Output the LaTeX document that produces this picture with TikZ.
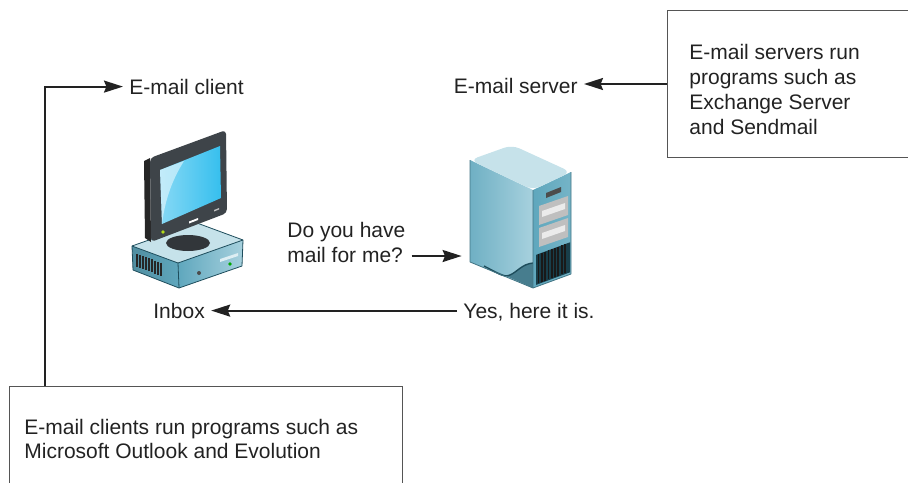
\documentclass[tikz,border=0pt]{standalone}
\usepackage{fontspec}
\setmainfont{Liberation Sans}
\usetikzlibrary{arrows.meta}
\definecolor{inkgray}{HTML}{222222}
\definecolor{boxgray}{HTML}{555555}
\definecolor{tealdark}{HTML}{1E4D5C}
\definecolor{tealmid}{HTML}{5FA7BD}
\definecolor{teallight}{HTML}{A7D1DE}
\definecolor{tealtop}{HTML}{C6E2EA}
\definecolor{screenblue}{HTML}{36BFEE}
\definecolor{bezel}{HTML}{3E4449}
\tikzstyle{Label} = [inner sep=3pt, text=inkgray, font=\fontsize{10.5}{12.5}\selectfont]
\tikzstyle{Note} = [draw=boxgray, line width=0.5pt, rectangle, anchor=north west]
\tikzstyle{NoteText} = [inner sep=0pt, align=left, anchor=north west, text=inkgray]
\tikzstyle{Arrow} = [draw=inkgray, line width=1pt, line join=miter, -{Stealth[length=9.5pt,width=6pt,inset=1.2pt]}]
\tikzstyle{Edge} = [draw=tealdark, line width=0.4pt, line join=round]

\begin{document}
\begin{tikzpicture}[x=0.5pt,y=-0.5pt]
  \clip (0,0) rectangle (908,482);

  % desktop computer
  \fill[tealtop] (132,246) -- (197,223) -- (243,240) -- (178,263) -- cycle;
  \shade[left color=tealmid!85!black, right color=tealmid] (132,246) -- (178,263) -- (179,288) -- (133,270) -- cycle;
  \shade[left color=tealmid, right color=teallight] (178,263) -- (243,240) -- (242,266) -- (179,288) -- cycle;
  \draw[Edge] (132,246) -- (197,223) -- (243,240) -- (242,266) -- (179,288) -- (133,270) -- cycle;
  \draw[Edge] (132,246) -- (178,263) -- (243,240) (178,263) -- (179,288);
  \foreach \x in {137,140,...,161}
    \draw[black!85, line width=0.9pt] (\x,{246+(\x-132)*0.37+6}) -- ++(0,13);
  \fill[tealtop!60!white] (220,259) -- (238,253) -- (238,256) -- (220,262) -- cycle;
  \fill[green!65!black] (230,264) circle (1.8);
  \fill[black!70] (199,273) circle (2);
  \fill[bezel!80!black] (188,243) ellipse (22 and 8);
  \fill[black!85] (144,161) -- (150,158) -- (151,242) -- (145,238) -- cycle;
  \fill[bezel, rounded corners=2pt] (150,158) -- (226,130) -- (227,213) -- (151,242) -- cycle;
  \shade[left color=screenblue!60!white, right color=screenblue] (160,170) -- (220,146) -- (221,198) -- (162,224) -- cycle;
  \fill[white, opacity=0.5] (160,170) -- (184,161) .. controls (172,180) and (165,200) .. (162,224) -- cycle;
  \fill[white] (189,221.5) -- (198,218) -- (198,220) -- (189,223.5) -- cycle;
  \fill[black!25] (214,210) -- (219,208) -- (219,209.5) -- (214,211.5) -- cycle;
  \fill[yellow!70!green] (163,232) circle (1.8);

  % tower server
  \shade[left color=tealmid!90!white, right color=teallight] (470,160) -- (533,190) -- (533,288) -- (470,262) -- cycle;
  \fill[tealmid!75!black] (484,266) .. controls (496,272) and (503,278) .. (510,275) .. controls (517,272) and (522,264) .. (533,263) -- (533,288) -- cycle;
  \draw[tealdark, line width=0.7pt] (484,266) .. controls (496,272) and (503,278) .. (510,275) .. controls (517,272) and (522,264) .. (533,263);
  \shade[left color=tealmid, right color=tealmid!70!teallight] (533,190) -- (571,172) -- (571,274) -- (533,288) -- cycle;
  \fill[tealtop, rounded corners=4pt] (470,160) -- (512,145) -- (571,172) -- (533,190) -- cycle;
  \draw[Edge, draw=tealmid!70!black] (470,160) -- (470,262) -- (533,288) -- (571,274) -- (571,172) (533,190) -- (533,288);
  \fill[black!70] (546,193) -- (561,187) -- (561,192) -- (546,198) -- cycle;
  \foreach \y in {0,22} {
    \fill[black!25] (539,206+\y) -- (568,196+\y) -- (568,215+\y) -- (539,225+\y) -- cycle;
    \fill[black!8] (542,211+\y) -- (565,203+\y) -- (565,209+\y) -- (542,217+\y) -- cycle;
  }
  \fill[black!10] (554,251) circle (2.5);
  \fill[tealdark!80!black] (536,{256-0.37*3}) -- (570,{256-0.37*37}) -- (570,{286-0.37*37}) -- (536,{286-0.37*3}) -- cycle;
  \foreach \x in {538.5,541.8,...,568}
    \draw[black!90, line width=0.9pt] (\x,{256-0.37*(\x-533)}) -- (\x,{285-0.37*(\x-533)});

  \node[inner sep=0pt, minimum width=55pt, minimum height=72pt] (srv) at (517,217) {};

  % labels
  \node[Label, anchor=base west]  (client) at (123,94)  {E-mail client};
  \node[Label, anchor=base east]  (server) at (584,93)  {E-mail server};
  \node[Label, anchor=north west, align=left] (ask) at (281,216) {Do you have\\mail for me?};
  \node[Label, anchor=base west]  (inbox)  at (147,318) {Inbox};
  \node[Label, anchor=base west]  (reply)  at (457,318) {Yes, here it is.};

  % notes
  \node[Note, minimum width=130pt, minimum height=73.5pt] (srvbox) at (667,10) {};
  \node[NoteText, font=\fontsize{10.5}{12.5}\selectfont] (srvnote) at ([shift={(22,34)}]srvbox.north west)
    {E-mail servers run\\programs such as\\Exchange Server\\and Sendmail};
  \node[Note, minimum width=196.5pt, minimum height=60pt] (cltbox) at (9,386) {};
  \node[NoteText, font=\fontsize{10.5}{12}\selectfont] (cltnote) at ([shift={(15,33)}]cltbox.north west)
    {E-mail clients run programs such as\\Microsoft Outlook and Evolution};

  % connectors
  \draw[Arrow] ([xshift=18pt]cltbox.north west) |- ([yshift=3.7pt]client.base west);
  \draw[Arrow] (srvbox.west) -- (srvbox.west -| server.east);
  \draw[Arrow] ([yshift=-20pt]ask.north east) -- ([yshift=-20pt]ask.north east -| srv.west);
  \draw[Arrow] ([yshift=3.7pt]reply.base west) -- ([yshift=3.7pt]inbox.base east);
\end{tikzpicture}
\end{document}
